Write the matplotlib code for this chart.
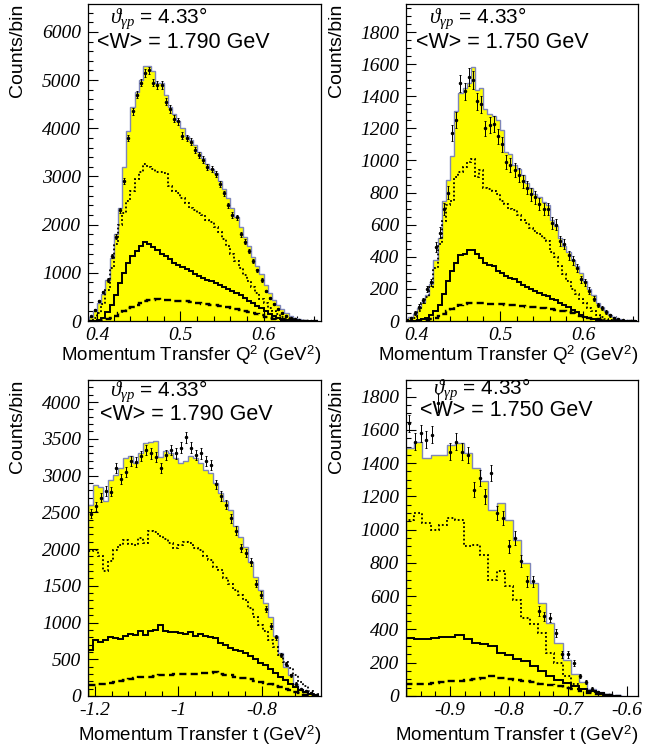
import numpy as np
import matplotlib
matplotlib.use("Agg")
import matplotlib.pyplot as plt
from matplotlib.ticker import MultipleLocator

# ---------------- data ----------------
# Panel 1: Q^2, <W> = 1.790 GeV  (bins: start 0.385, width 0.005)
p1_lo, p1_w = 0.385, 0.005
p1_total = [30, 80, 200, 380, 560, 850, 1300, 1800, 2350, 3200, 3950, 4450, 4750, 5000,
            5300, 5300, 5180, 4950, 4950, 4700, 4450, 4300, 4150, 4000, 3850, 3750, 3650,
            3500, 3380, 3250, 3150, 3080, 2900, 2750, 2550, 2350, 2150, 1950, 1750, 1550,
            1330, 1150, 980, 750, 580, 440, 330, 240, 160, 110, 70, 40, 20, 10, 5, 0]
p1_data = [20, 100, 230, 420, 600, 850, 1350, 1750, 2300, 2900, 3800, 4350, 4700, 4950,
           5150, 5200, 4950, 4900, 4900, 4550, 4400, 4200, 4150, 3850, 3800, 3720, 3550,
           3450, 3350, 3200, 3150, 3050, 2850, 2650, 2400, 2200, 2150, 1800, 1650, 1450,
           1250, 1050, 850, 620, 480, 350, 250, 170, 110, 60, 35, 20, 10, 5, 2, 0]
p1_err = [5, 11, 17, 23, 28, 33, 42, 47, 54, 61, 70, 75, 77, 80,
          81, 81, 80, 79, 79, 76, 75, 73, 73, 70, 70, 69, 67,
          66, 65, 64, 63, 62, 60, 58, 55, 53, 52, 48, 46, 43,
          40, 37, 33, 28, 25, 21, 18, 15, 12, 9, 7, 5, 4, 3, 2, 0]
p1_dotted = [0, 10, 60, 160, 350, 650, 1100, 1600, 2000, 2250, 2500, 2700, 2950, 3100,
             3250, 3200, 3150, 3100, 3100, 3080, 2800, 2700, 2650, 2550, 2450, 2350, 2300,
             2250, 2200, 2100, 2050, 1950, 1850, 1700, 1550, 1400, 1250, 1100, 950, 820,
             700, 580, 460, 370, 280, 200, 140, 90, 60, 35, 20, 10, 5, 2, 0, 0]
p1_solid = [0, 0, 5, 20, 60, 180, 330, 530, 780, 1000, 1200, 1350, 1450, 1550,
            1650, 1600, 1530, 1480, 1400, 1350, 1280, 1200, 1160, 1120, 1080, 1030, 970,
            930, 890, 850, 820, 780, 740, 700, 670, 620, 580, 530, 470, 420,
            370, 310, 260, 200, 150, 110, 70, 45, 25, 12, 5, 2, 0, 0, 0, 0]
p1_dashed = [0, 0, 0, 5, 15, 35, 70, 110, 160, 210, 260, 300, 340, 380,
             410, 430, 445, 450, 445, 440, 430, 420, 420, 415, 405, 395, 380,
             370, 360, 350, 340, 330, 315, 300, 285, 270, 250, 230, 210, 190,
             160, 140, 115, 90, 65, 50, 30, 20, 10, 5, 0, 0, 0, 0, 0, 0]

# Panel 2: Q^2, <W> = 1.750 GeV
p2_lo, p2_w = 0.385, 0.005
p2_total = [10, 25, 45, 80, 120, 160, 230, 380, 520, 750, 880, 1030, 1310, 1420,
            1450, 1480, 1580, 1440, 1450, 1320, 1290, 1280, 1250, 1190, 1050, 1040, 970,
            950, 910, 860, 830, 790, 770, 740, 720, 630, 590, 520, 470, 430,
            380, 340, 300, 250, 200, 160, 115, 85, 60, 40, 25, 15, 8, 4, 2, 0]
p2_data = [5, 20, 50, 90, 130, 200, 240, 460, 550, 700, 800, 1170, 1250, 1480,
           1430, 1520, 1500, 1370, 1350, 1200, 1220, 1230, 1150, 1100, 990, 970, 940,
           910, 870, 830, 790, 770, 730, 700, 700, 610, 600, 500, 480, 410,
           380, 330, 260, 240, 190, 140, 100, 80, 55, 35, 20, 12, 6, 3, 1, 0]
p2_err = [3, 6, 10, 13, 16, 20, 22, 30, 33, 38, 40, 49, 50, 55,
          54, 55, 55, 53, 52, 49, 50, 50, 48, 47, 45, 44, 44,
          43, 42, 41, 40, 39, 38, 38, 38, 35, 35, 32, 31, 29,
          28, 26, 23, 22, 20, 17, 14, 13, 11, 8, 6, 5, 3, 2, 1, 0]
p2_dotted = [0, 5, 20, 60, 110, 150, 210, 330, 480, 620, 720, 750, 900, 930,
             960, 990, 1010, 900, 940, 830, 820, 810, 790, 750, 730, 700, 690,
             660, 630, 610, 580, 560, 545, 520, 500, 430, 400, 340, 290, 250,
             200, 170, 140, 110, 80, 60, 40, 25, 15, 8, 4, 2, 0, 0, 0, 0]
p2_solid = [0, 0, 2, 5, 12, 20, 40, 60, 100, 170, 250, 310, 360, 410,
            420, 440, 440, 420, 390, 360, 350, 340, 310, 300, 280, 270, 260,
            240, 225, 210, 200, 185, 175, 165, 155, 140, 130, 115, 100, 85,
            70, 55, 40, 28, 18, 10, 5, 2, 0, 0, 0, 0, 0, 0, 0, 0]
p2_dashed = [0, 0, 0, 2, 5, 8, 14, 20, 30, 45, 60, 75, 88, 100,
             106, 112, 115, 115, 112, 110, 107, 105, 105, 105, 102, 100, 98,
             95, 92, 90, 88, 85, 82, 80, 76, 72, 68, 65, 60, 55,
             48, 40, 34, 28, 20, 15, 10, 5, 2, 0, 0, 0, 0, 0, 0, 0]

# Panel 3: t, <W> = 1.790 GeV  (bins: start -1.216, width 0.012)
p3_lo, p3_w = -1.216, 0.012
p3_total = [2600, 2870, 2840, 2650, 2940, 3010, 3100, 3240, 3260, 3170, 3300, 3440, 3460,
            3470, 3250, 3330, 3300, 3240, 3170, 3200, 3260, 3240, 3170, 3080, 3030, 2900,
            2760, 2650, 2530, 2310, 2170, 2030, 1830, 1625, 1440, 1260, 1080, 810, 580,
            400, 285, 170, 100, 60, 35, 15]
p3_data = [2480, 2580, 2700, 2790, 2780, 3100, 2950, 3050, 3200, 3180, 3270, 3350, 3300,
           3250, 3100, 3280, 3350, 3300, 3380, 3520, 3380, 3280, 3300, 3200, 3150, 2880,
           2720, 2600, 2420, 2250, 2020, 1950, 1820, 1530, 1380, 1180, 950, 800, 560,
           440, 280, 170, 90, 70, 40, 20]
p3_err = [61, 62, 63, 64, 64, 68, 66, 67, 69, 69, 70, 71, 70,
          70, 68, 70, 71, 70, 71, 72, 71, 70, 70, 69, 68, 65,
          64, 62, 60, 58, 55, 54, 52, 48, 45, 42, 38, 35, 29,
          26, 20, 16, 12, 10, 8, 5]
p3_dotted = [1970, 1990, 1900, 1700, 1840, 1990, 2050, 2120, 2070, 2060, 2150, 2080, 2250,
             2230, 2180, 2140, 2080, 2020, 2050, 2100, 2080, 2010, 1980, 1900, 1850, 1750,
             1720, 1600, 1520, 1440, 1380, 1300, 1200, 1080, 960, 880, 760, 660, 560,
             460, 380, 290, 190, 130, 70, 30]
p3_solid = [630, 760, 740, 760, 800, 790, 780, 820, 850, 830, 880, 830, 880,
            900, 970, 880, 870, 870, 860, 850, 870, 820, 850, 810, 800, 790,
            720, 700, 650, 630, 610, 580, 540, 500, 450, 420, 370, 310, 260,
            220, 170, 120, 80, 50, 25, 10]
p3_dashed = [150, 155, 160, 170, 180, 195, 210, 220, 235, 245, 255, 260, 265,
             270, 280, 285, 290, 295, 300, 300, 305, 305, 310, 315, 310, 320,
             300, 290, 280, 265, 250, 240, 225, 210, 190, 175, 160, 140, 120,
             100, 75, 55, 35, 20, 10, 5]

# Panel 4: t, <W> = 1.750 GeV  (bins: start -0.975, width 0.014; data width 0.01)
p4_lo, p4_w = -0.975, 0.014
p4_total = [1490, 1530, 1430, 1450, 1450, 1510, 1520, 1460, 1370, 1290, 1120, 1160, 1060,
            940, 800, 680, 560, 440, 320, 215, 135, 85, 45, 25, 12, 6]
p4_dotted = [1060, 1100, 1040, 1000, 1030, 1070, 1060, 900, 910, 850, 700, 750, 660,
             580, 470, 430, 380, 260, 200, 120, 75, 45, 25, 12, 5, 2]
p4_solid = [350, 345, 345, 350, 355, 355, 365, 340, 320, 310, 300, 260, 246,
            225, 210, 180, 150, 120, 95, 80, 60, 45, 30, 18, 8, 3]
p4_dashed = [75, 72, 75, 80, 85, 88, 92, 96, 100, 110, 118, 110, 104,
             98, 92, 85, 75, 68, 60, 50, 40, 30, 20, 12, 6, 2]
p4_data_lo, p4_data_w = -0.975, 0.01
p4_data = [1640, 1530, 1580, 1540, 1570, 1760, np.nan, 1470, 1530, 1470, 1450, 1240,
           1310, 1200, 1340, 1100, 1070, 900, 950, 810, 690, 690, 510, 480, 470, 380,
           250, 250, 200, 120, 85, 45, 25, 12, 5]
p4_err = [52, 50, 51, 51, 51, 54, 0, 49, 50, 49, 49, 45,
          47, 45, 47, 43, 42, 39, 40, 37, 34, 34, 29, 28, 28, 25,
          20, 20, 18, 14, 12, 9, 6, 4, 3]

W_LABELS = ["<W> = 1.790 GeV", "<W> = 1.750 GeV", "<W> = 1.790 GeV", "<W> = 1.750 GeV"]
THETA_LABEL = r"$\vartheta_{\gamma p}$ = 4.33°"
XLABELS = ["Momentum Transfer Q$^{2}$ (GeV$^{2}$)", "Momentum Transfer Q$^{2}$ (GeV$^{2}$)",
           "Momentum Transfer t (GeV$^{2}$)", "Momentum Transfer t (GeV$^{2}$)"]
YLABEL = "Counts/bin"

# ---------------- style ----------------
YELLOW = "#ffff00"
OUTLINE = "#7f86b8"
plt.rcParams["mathtext.fontset"] = "custom"
plt.rcParams["mathtext.rm"] = "Liberation Sans"
plt.rcParams["mathtext.it"] = "Liberation Serif:italic"

fig = plt.figure(figsize=(6.47, 7.47), dpi=100)
W, H = 647.0, 747.0


def axes_px(left, top, right, bottom):
    return fig.add_axes([left / W, 1 - bottom / H, (right - left) / W, (bottom - top) / H])


axs = [axes_px(88, 4, 321, 321), axes_px(406, 4, 638, 321),
       axes_px(88, 380, 321, 696), axes_px(406, 380, 638, 696)]

panels = [
    dict(lo=p1_lo, w=p1_w, total=p1_total, dotted=p1_dotted, solid=p1_solid, dashed=p1_dashed,
         dlo=p1_lo, dw=p1_w, data=p1_data, err=p1_err,
         xlim=(0.389, 0.669), ylim=(0, 6580), xmaj=0.1, xmin=0.02, ymaj=1000, ymin=200,
         xfmt="{:.1f}", xlab_y=-0.072),
    dict(lo=p2_lo, w=p2_w, total=p2_total, dotted=p2_dotted, solid=p2_solid, dashed=p2_dashed,
         dlo=p2_lo, dw=p2_w, data=p2_data, err=p2_err,
         xlim=(0.387, 0.666), ylim=(0, 1975), xmaj=0.1, xmin=0.02, ymaj=200, ymin=50,
         xfmt="{:.1f}", xlab_y=-0.072),
    dict(lo=p3_lo, w=p3_w, total=p3_total, dotted=p3_dotted, solid=p3_solid, dashed=p3_dashed,
         dlo=p3_lo, dw=p3_w, data=p3_data, err=p3_err,
         xlim=(-1.217, -0.658), ylim=(0, 4300), xmaj=0.2, xmin=0.04, ymaj=500, ymin=100,
         xfmt="{:g}", xlab_y=-0.086),
    dict(lo=p4_lo, w=p4_w, total=p4_total, dotted=p4_dotted, solid=p4_solid, dashed=p4_dashed,
         dlo=p4_data_lo, dw=p4_data_w, data=p4_data, err=p4_err,
         xlim=(-0.9746, -0.5814), ylim=(0, 1900), xmaj=0.1, xmin=0.025, ymaj=200, ymin=50,
         xfmt="{:g}", xlab_y=-0.086),
]

text_pos = [((0.095, 0.955), (0.04, 0.88)), ((0.10, 0.955), (0.045, 0.88)),
            ((0.095, 0.965), (0.05, 0.89)), ((0.115, 0.972), (0.06, 0.902))]

for k, (ax, p) in enumerate(zip(axs, panels)):
    total = np.asarray(p["total"], float)
    edges = p["lo"] + p["w"] * np.arange(len(total) + 1)
    ax.stairs(total, edges, fill=True, color=YELLOW, lw=0, zorder=1)
    ax.stairs(total, edges, color=OUTLINE, lw=1.0, zorder=2)
    ax.stairs(np.asarray(p["dotted"], float), edges, color="k", lw=1.3,
              ls=(0, (1, 1.3)), zorder=3)
    ax.stairs(np.asarray(p["solid"], float), edges, color="k", lw=1.4, zorder=3)
    ax.stairs(np.asarray(p["dashed"], float), edges, color="k", lw=1.7,
              ls=(0, (3, 1.8)), zorder=3)
    data = np.asarray(p["data"], float)
    err = np.asarray(p["err"], float)
    data[data <= 0] = np.nan
    dx = p["dlo"] + p["dw"] * (np.arange(len(data)) + 0.5)
    ax.errorbar(dx, data, yerr=err, fmt="o", ms=1.5, color="k",
                elinewidth=0.7, capsize=1.0, capthick=0.7, zorder=4)

    ax.set_xlim(*p["xlim"])
    ax.set_ylim(*p["ylim"])
    ax.xaxis.set_major_locator(MultipleLocator(p["xmaj"]))
    ax.xaxis.set_minor_locator(MultipleLocator(p["xmin"]))
    ax.yaxis.set_major_locator(MultipleLocator(p["ymaj"]))
    ax.yaxis.set_minor_locator(MultipleLocator(p["ymin"]))
    fmt = p["xfmt"]
    ax.xaxis.set_major_formatter(plt.FuncFormatter(
        lambda v, pos, fmt=fmt: fmt.format(round(v, 3))))
    ax.yaxis.set_major_formatter(plt.FuncFormatter(lambda v, pos: f"{int(round(v))}"))
    ax.tick_params(which="both", direction="in", top=False, right=False, width=0.8)
    ax.tick_params(which="major", length=7)
    ax.tick_params(axis="x", which="major", pad=4)
    ax.tick_params(axis="y", which="major", pad=5)
    ax.tick_params(which="minor", length=3.5)
    for lab in ax.get_xticklabels() + ax.get_yticklabels():
        lab.set_fontfamily("Liberation Serif")
        lab.set_fontstyle("italic")
        lab.set_fontsize(14)
    for s in ax.spines.values():
        s.set_linewidth(0.9)

    ax.set_ylabel(YLABEL, fontsize=14, family="Liberation Sans", loc="top")
    ax.yaxis.set_label_coords(-0.265, 1.0)
    ax.set_xlabel(XLABELS[k], fontsize=13.5, family="Liberation Sans", loc="right")
    ax.xaxis.set_label_coords(1.0, p["xlab_y"])

    (tx, ty), (wx, wy) = text_pos[k]
    ax.text(tx, ty, THETA_LABEL, transform=ax.transAxes, fontsize=15,
            family="Liberation Sans", ha="left", va="center", zorder=5)
    ax.text(wx, wy, W_LABELS[k], transform=ax.transAxes, fontsize=15.5,
            family="Liberation Sans", ha="left", va="center", zorder=5)

fig.savefig("out.png", dpi=100)
